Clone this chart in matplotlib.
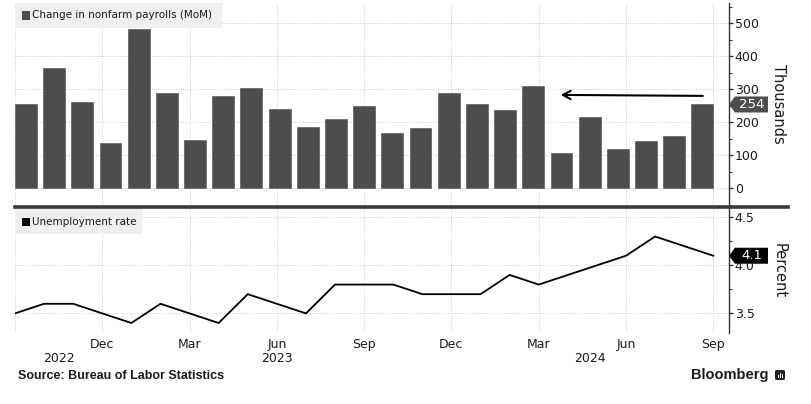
import matplotlib
matplotlib.use('Agg')
import numpy as np
import matplotlib.pyplot as plt
from matplotlib.patches import Rectangle, Polygon, FancyBboxPatch
from matplotlib.lines import Line2D
import matplotlib.transforms as mtrans
from matplotlib.ticker import MultipleLocator

# ---------------- data ----------------
months = ['Sep 2022', 'Oct 2022', 'Nov 2022', 'Dec 2022', 'Jan 2023', 'Feb 2023', 'Mar 2023',
          'Apr 2023', 'May 2023', 'Jun 2023', 'Jul 2023', 'Aug 2023', 'Sep 2023', 'Oct 2023',
          'Nov 2023', 'Dec 2023', 'Jan 2024', 'Feb 2024', 'Mar 2024', 'Apr 2024', 'May 2024',
          'Jun 2024', 'Jul 2024', 'Aug 2024', 'Sep 2024']
payrolls = [256, 364, 260, 137, 484, 289, 147, 280, 304, 241, 186, 211, 249, 167,
            183, 290, 256, 236, 310, 108, 216, 118, 144, 159, 254]
unemployment = [3.5, 3.6, 3.6, 3.5, 3.4, 3.6, 3.5, 3.4, 3.7, 3.6, 3.5, 3.8, 3.8, 3.8,
                3.7, 3.7, 3.7, 3.9, 3.8, 3.9, 4.0, 4.1, 4.3, 4.2, 4.1]
tick_months = ['Sep 2022', 'Dec 2022', 'Mar 2023', 'Jun 2023', 'Sep 2023',
               'Dec 2023', 'Mar 2024', 'Jun 2024', 'Sep 2024']
tick_labels = ['', 'Dec', 'Mar', 'Jun', 'Sep', 'Dec', 'Mar', 'Jun', 'Sep']
year_labels = ['2022', '2023', '2024']
year_pos = [1.5, 9.0, 19.75]

# ---------------- layout ----------------
W, H = 811, 404
fig = plt.figure(figsize=(W / 100, H / 100), dpi=100)
fig.patch.set_facecolor('white')

def frac(x, y):
    return x / W, 1 - y / H

L, R, TOP, SEP, BOT = 15, 729, 3, 207, 333
ax1 = fig.add_axes([L / W, 1 - SEP / H, (R - L) / W, (SEP - TOP) / H])
ax2 = fig.add_axes([L / W, 1 - BOT / H, (R - L) / W, (BOT - SEP) / H])

n = len(months)
x = np.arange(n)
month_px = (713.3 - L) / (n - 1)
xmax = (R - L) / month_px
tick_pos = [months.index(m) for m in tick_months]

BAR = '#4d4d4d'
TXT = '#1a1a1a'
GRID = '#cccccc'

# bars
w = 0.75
bar_left = x * (n - 1 - w) / (n - 1)
ax1.bar(bar_left, payrolls, width=w, align='edge', color=BAR, edgecolor='#5e5e5e', linewidth=0.5, zorder=3)
ax1.set_ylim(-56.7, 561.5)
ax1.set_xlim(0, xmax)

# line
ax2.plot(x, unemployment, color='black', lw=1.3, zorder=3, solid_joinstyle='miter')
ax2.set_ylim(3.296, 4.607)
ax2.set_xlim(0, xmax)

for ax in (ax1, ax2):
    ax.set_facecolor('white')
    for s in ('left', 'top', 'bottom'):
        ax.spines[s].set_visible(False)
    ax.spines['right'].set_color('#333333')
    ax.spines['right'].set_linewidth(1.0)
    ax.yaxis.tick_right()
    ax.tick_params(axis='y', which='major', direction='out', length=3, width=1,
                   color='#333333', labelsize=9, labelcolor=TXT, pad=1.2)
    ax.tick_params(axis='y', which='minor', direction='out', length=2, width=0.8, color='#333333')
    ax.set_xticks(tick_pos)
    ax.grid(True, which='major', color=GRID, linestyle=(0, (1, 1.5)), linewidth=0.7, zorder=0)
    ax.set_axisbelow(True)

ax1.set_yticks([0, 100, 200, 300, 400, 500])
ax1.yaxis.set_minor_locator(MultipleLocator(50))
ax1.tick_params(axis='x', bottom=False, labelbottom=False)

ax2.set_yticks([3.5, 4.0, 4.5])
ax2.yaxis.set_minor_locator(MultipleLocator(0.25))
ax2.set_xticklabels(tick_labels)
ax2.tick_params(axis='x', bottom=False, length=0, labelsize=9, labelcolor=TXT, pad=3.3)

# year labels
tr = mtrans.blended_transform_factory(ax2.transData, ax2.transAxes)
for yl, yp in zip(year_labels, year_pos):
    ax2.text(yp, (BOT - 359) / (BOT - SEP), yl, transform=tr, ha='center', va='center',
             fontsize=9, color=TXT)

# axis titles
fig.text(*frac(779, 104), 'Thousands', rotation=270, ha='center', va='center', fontsize=10.5, color=TXT)
fig.text(*frac(779, 271), 'Percent', rotation=270, ha='center', va='center', fontsize=10.5, color=TXT)

# arrow
ax1.annotate('', xy=(18.76, 283), xytext=(23.64, 280),
             arrowprops=dict(arrowstyle='->,head_length=0.55,head_width=0.3', color='black',
                             lw=1.5, shrinkA=0, shrinkB=0), zorder=5)

# value tags
def tag(ax, yval, text, color):
    _, py = ax.transData.transform((0, yval))
    py = H - py
    h = 8
    pts = [(729, py), (735, py - h), (768, py - h), (768, py + h), (735, py + h)]
    fig.add_artist(Polygon([frac(a, b) for a, b in pts], closed=True, transform=fig.transFigure,
                           facecolor=color, edgecolor='none', zorder=6))
    fig.text(*frac(751.5, py), text, ha='center', va='center', fontsize=9.5, color='white', zorder=7)

tag(ax1, payrolls[-1], str(payrolls[-1]), BAR)
tag(ax2, unemployment[-1], f'{unemployment[-1]:.1f}', 'black')

# separator line
fig.add_artist(Line2D([L / W, 788 / W], [1 - SEP / H] * 2, transform=fig.transFigure,
                      color='#3a3a3a', lw=2.6, zorder=5))

# legend boxes
def legend_box(x0, y0, x1, y1, label, sq_color):
    fx0, fy1 = frac(x0, y1)
    fig.add_artist(Rectangle((fx0, fy1), (x1 - x0) / W, (y1 - y0) / H, transform=fig.transFigure,
                             facecolor='#efefef', edgecolor='none', zorder=4))
    cy = (y0 + y1) / 2
    sx, sy = frac(22, cy + 4)
    fig.add_artist(Rectangle((sx, sy), 8 / W, 8 / H, transform=fig.transFigure,
                             facecolor=sq_color, edgecolor='none', zorder=5))
    fig.text(*frac(32, cy), label, ha='left', va='center', fontsize=7.5, color=TXT, zorder=5)

legend_box(15, 3, 222, 28, 'Change in nonfarm payrolls (MoM)', BAR)
legend_box(15, 209, 142, 234, 'Unemployment rate', 'black')

# footer
fig.text(*frac(18, 376), 'Source: Bureau of Labor Statistics', ha='left', va='center',
         fontsize=9, fontweight='bold', family='Liberation Sans', color=TXT)
fig.text(*frac(768, 375), 'Bloomberg', ha='right', va='center', fontsize=10.5,
         fontweight='bold', family='Liberation Sans', color=TXT)
lx, ly = frac(775, 380)
fig.add_artist(FancyBboxPatch((lx, ly), 10 / W, 10 / H, boxstyle='round,pad=0,rounding_size=0.003',
                              transform=fig.transFigure, facecolor='#222222', edgecolor='none'))
for bx, bh in zip([777.5, 779.5, 781.5], [3, 5, 4]):
    fx, fy = frac(bx, 377.5)
    fig.add_artist(Rectangle((fx, fy), 1 / W, bh / H, transform=fig.transFigure,
                             facecolor='white', edgecolor='none', zorder=6))

fig.savefig('out.png', dpi=100)
